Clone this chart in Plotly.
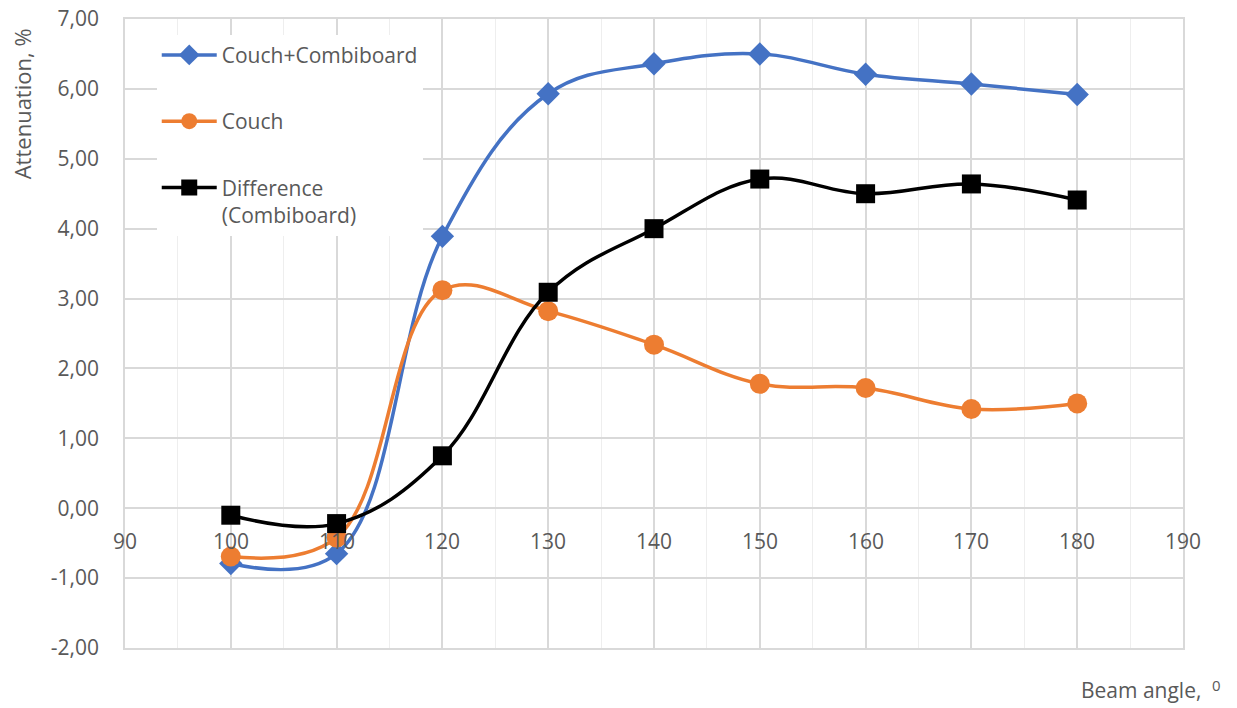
import plotly.graph_objects as go

# Beam angles (degrees)
angles = [100, 110, 120, 130, 140, 150, 160, 170, 180]

# Attenuation (%) per configuration
couch_combiboard = [-0.79, -0.65, 3.89, 5.93, 6.36, 6.50, 6.21, 6.07, 5.92]
couch = [-0.69, -0.42, 3.12, 2.82, 2.34, 1.78, 1.72, 1.42, 1.50]
difference = [-0.10, -0.22, 0.75, 3.09, 4.00, 4.71, 4.50, 4.64, 4.41]

x_ticks = [90, 100, 110, 120, 130, 140, 150, 160, 170, 180, 190]
y_ticks = [-2, -1, 0, 1, 2, 3, 4, 5, 6, 7]
y_ticktext = [f"{v:.2f}".replace(".", ",") for v in y_ticks]

FONT = "Open Sans, Liberation Sans, sans-serif"
TEXT = "#595959"
GRID = "#d9d9d9"
FS = 21

fig = go.Figure()
fig.add_trace(go.Scatter(
    x=angles, y=couch_combiboard, name="Couch+Combiboard", legendgroup="a",
    mode="lines+markers", line=dict(color="#4472C4", width=3.5, shape="spline", smoothing=1.1),
    marker=dict(symbol="diamond", size=18, color="#4472C4"),
))
fig.add_trace(go.Scatter(
    x=angles, y=couch, name="Couch", legendgroup="b",
    mode="lines+markers", line=dict(color="#ED7D31", width=3.5, shape="spline", smoothing=1.1),
    marker=dict(symbol="circle", size=20, color="#ED7D31"),
))
fig.add_trace(go.Scatter(
    x=angles, y=difference, name="Difference<br>(Combiboard)", legendgroup="c",
    mode="lines+markers", line=dict(color="#000000", width=3.5, shape="spline", smoothing=1.1),
    marker=dict(symbol="square", size=19, color="#000000"),
))

# x tick labels drawn along the zero line
annotations = [
    dict(x=t, y=0, xref="x", yref="y", text=str(t), showarrow=False,
         yanchor="top", yshift=-17, font=dict(family=FONT, size=FS, color=TEXT))
    for t in x_ticks
]
annotations.append(dict(
    x=-0.097, y=0.865, xref="paper", yref="paper", text="Attenuation, %",
    textangle=-90, showarrow=False, xanchor="center", yanchor="middle",
    font=dict(family=FONT, size=22, color=TEXT)))
# x-axis title with a raised degree "0"
annotations.append(dict(
    x=1.0189, y=-0.067, xref="paper", yref="paper", text="Beam angle,",
    showarrow=False, xanchor="right", yanchor="middle",
    font=dict(family=FONT, size=FS, color=TEXT)))
annotations.append(dict(
    x=1.0321, y=-0.059, xref="paper", yref="paper", text="0",
    showarrow=False, xanchor="center", yanchor="middle",
    font=dict(family=FONT, size=15, color=TEXT)))

fig.update_layout(
    width=1237, height=708,
    margin=dict(l=125, r=54, t=19, b=60, autoexpand=False),
    paper_bgcolor="white", plot_bgcolor="white",
    font=dict(family=FONT, size=FS, color=TEXT),
    annotations=annotations,
    legend=dict(
        x=0.03, y=0.975, xanchor="left", yanchor="top",
        bgcolor="white", font=dict(family=FONT, size=FS, color=TEXT),
        tracegroupgap=36, itemwidth=55, valign="top",
    ),
    xaxis=dict(
        range=[90, 190], dtick=10, tick0=90, showticklabels=False,
        showgrid=True, gridcolor=GRID, gridwidth=1.5,
        minor=dict(dtick=5, showgrid=True, gridcolor="#eeeeee", gridwidth=1),
        showline=True, linecolor=GRID, linewidth=1.5, mirror=True,
        zeroline=False, ticks="", automargin=False,
    ),
    yaxis=dict(
        range=[-2, 7], tickvals=y_ticks, ticktext=y_ticktext,
        showgrid=True, gridcolor=GRID, gridwidth=1.5,
        showline=True, linecolor=GRID, linewidth=1.5, mirror=True,
        zeroline=False, ticks="", ticklabelstandoff=20, automargin=False,
        tickfont=dict(family=FONT, size=FS, color=TEXT),
    ),
)

fig.write_html("out.html")
